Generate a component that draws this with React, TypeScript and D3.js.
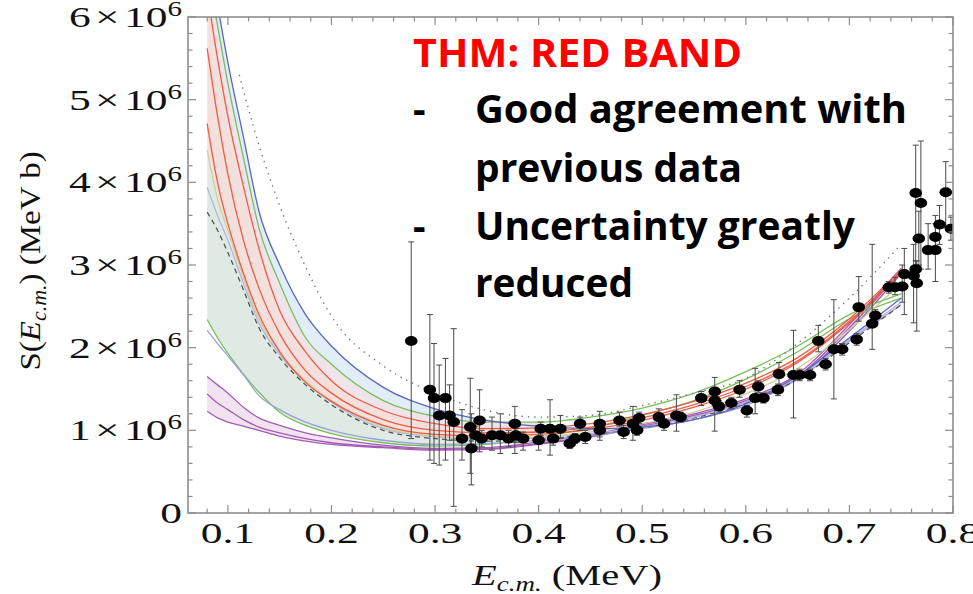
import React from 'react';
import * as d3 from 'd3';

// ---------- data ----------
const energies = [0.08, 0.09, 0.1, 0.115, 0.13, 0.15, 0.175, 0.2, 0.25, 0.3, 0.35, 0.4, 0.45, 0.5, 0.55, 0.6, 0.65, 0.7, 0.75];

const blueUpper = [6.9, 6.15, 5.45, 4.55, 3.65, 3.0, 2.4, 2.02, 1.52, 1.26, 1.12, 1.05, 1.02, 1.04, 1.13, 1.32, 1.66, 2.12, 2.6];
const greenUpper = [6.6, 5.9, 5.2, 4.3, 3.45, 2.78, 2.12, 1.8, 1.36, 1.17, 1.1, 1.1, 1.16, 1.27, 1.45, 1.71, 2.02, 2.4, 2.65];
const redUpper = [6.3, 5.5, 4.8, 3.95, 3.2, 2.45, 1.95, 1.6, 1.24, 1.08, 1.02, 1.03, 1.08, 1.19, 1.35, 1.57, 1.88, 2.35, 2.95];
const redMid = [5.62, 4.8, 4.1, 3.3, 2.72, 2.17, 1.72, 1.45, 1.13, 1.0, 0.97, 0.98, 1.04, 1.15, 1.31, 1.53, 1.84, 2.32, 2.92];
const redLower = [4.71, 4.0, 3.5, 2.9, 2.4, 1.95, 1.58, 1.35, 1.06, 0.95, 0.93, 0.95, 1.01, 1.12, 1.28, 1.5, 1.82, 2.3, 2.9];
const khakiLine = [4.39, 3.8, 3.42, 2.85, 2.35, 1.95, 1.6, 1.36, 1.04, 0.93, 0.9, 0.92, 0.98, 1.08, 1.22, 1.44, 1.75, 2.22, 2.78];
const lavenderLine = [3.94, 3.6, 3.3, 2.78, 2.3, 1.92, 1.58, 1.34, 1.02, 0.92, 0.89, 0.91, 0.96, 1.04, 1.16, 1.34, 1.64, 2.1, 2.55];
const dashedLine = [3.64, 3.42, 3.15, 2.7, 2.24, 1.88, 1.55, 1.31, 1.0, 0.9, 0.87, 0.89, 0.95, 1.03, 1.15, 1.33, 1.62, 2.06, 2.52];
const greenLower = [2.34, 2.12, 1.93, 1.68, 1.46, 1.22, 1.06, 0.96, 0.85, 0.81, 0.83, 0.92, 1.03, 1.18, 1.36, 1.62, 1.95, 2.35, 2.6];
const blueLower = [2.21, 2.05, 1.9, 1.67, 1.42, 1.25, 1.1, 1.0, 0.88, 0.83, 0.84, 0.88, 0.94, 1.02, 1.13, 1.3, 1.62, 2.08, 2.52];
const purpleUpper = [1.65, 1.55, 1.45, 1.28, 1.15, 1.06, 0.97, 0.91, 0.82, 0.78, 0.79, 0.86, 0.95, 1.07, 1.2, 1.38, 1.68, 2.28, 2.96];
const purpleMid = [1.44, 1.33, 1.25, 1.13, 1.04, 0.97, 0.9, 0.85, 0.8, 0.77, 0.78, 0.84, 0.93, 1.05, 1.18, 1.36, 1.65, 2.24, 2.93];
const purpleLower = [1.23, 1.15, 1.1, 1.05, 1.0, 0.93, 0.87, 0.83, 0.79, 0.76, 0.77, 0.83, 0.92, 1.04, 1.16, 1.34, 1.63, 2.2, 2.9];

const dottedEnergies = [0.111, 0.13, 0.15, 0.175, 0.2, 0.25, 0.3, 0.35, 0.4, 0.45, 0.5, 0.55, 0.6, 0.65, 0.7, 0.75];
const dottedValues = [5.3, 4.45, 3.72, 2.98, 2.38, 1.78, 1.45, 1.24, 1.16, 1.18, 1.3, 1.45, 1.63, 2.05, 2.6, 3.25];

const dataE = [0.277, 0.295, 0.299, 0.304, 0.31, 0.314, 0.318, 0.326, 0.334, 0.335, 0.339, 0.343, 0.345, 0.355, 0.363, 0.371, 0.377, 0.378, 0.385, 0.4, 0.402, 0.411, 0.414, 0.421, 0.43, 0.435, 0.44, 0.445, 0.459, 0.459, 0.478, 0.482, 0.491, 0.495, 0.497, 0.516, 0.521, 0.533, 0.537, 0.557, 0.57, 0.57, 0.574, 0.586, 0.594, 0.601, 0.609, 0.612, 0.617, 0.631, 0.632, 0.646, 0.652, 0.662, 0.67, 0.677, 0.685, 0.693, 0.707, 0.709, 0.722, 0.725, 0.738, 0.744, 0.751, 0.753, 0.762, 0.764, 0.765, 0.764, 0.769, 0.767, 0.776, 0.783, 0.783, 0.787, 0.793, 0.798];
const dataS = [2.08, 1.49, 1.39, 1.18, 1.39, 1.18, 1.1, 0.9, 1.04, 0.78, 0.94, 1.12, 0.9, 0.94, 0.94, 0.9, 1.08, 0.94, 0.9, 0.88, 1.02, 1.02, 0.9, 1.02, 0.84, 0.9, 1.08, 0.92, 1.08, 1.0, 1.12, 0.98, 1.08, 1.0, 1.15, 1.16, 1.08, 1.18, 1.16, 1.39, 1.47, 1.36, 1.29, 1.33, 1.49, 1.24, 1.39, 1.53, 1.39, 1.49, 1.68, 1.67, 1.67, 1.67, 2.08, 1.8, 1.98, 1.98, 2.1, 2.49, 2.29, 2.39, 2.73, 2.73, 2.74, 2.89, 2.87, 2.95, 2.78, 3.87, 3.75, 3.32, 3.18, 3.18, 3.34, 3.49, 3.88, 3.44];
const dataLo = [0.9, 0.64, 0.6, 0.58, 0.64, 0.88, 0.08, 0.64, 0.48, 0.34, 0.8, 0.74, 0.8, 0.76, 0.72, 0.8, 0.72, 0.85, 0.76, 0.76, 0.94, 0.7, 0.82, 0.9, 0.78, 0.84, 1.0, 0.84, 0.88, 0.92, 1.05, 0.9, 0.88, 0.94, 1.08, 1.06, 1.0, 0.99, 1.1, 1.3, 0.99, 1.3, 1.22, 1.26, 1.4, 1.16, 1.2, 1.46, 1.33, 1.42, 1.55, 1.15, 1.6, 1.6, 1.95, 1.73, 1.38, 1.91, 2.03, 2.32, 1.98, 2.32, 2.66, 2.64, 2.55, 2.4, 2.3, 2.85, 2.2, 3.0, 2.95, 3.0, 2.95, 2.8, 3.2, 3.25, 3.45, 3.3];
const dataHi = [3.28, 2.4, 2.05, 1.79, 1.87, 1.55, 2.23, 1.25, 1.63, 1.2, 1.05, 1.49, 1.0, 1.16, 1.2, 1.0, 1.29, 1.02, 0.98, 1.06, 1.1, 1.37, 0.98, 1.18, 0.92, 0.96, 1.16, 1.0, 1.23, 1.06, 1.22, 1.06, 1.29, 1.06, 1.22, 1.26, 1.14, 1.43, 1.22, 1.47, 1.64, 1.42, 1.36, 1.4, 1.6, 1.3, 1.75, 1.6, 1.45, 1.56, 1.82, 2.21, 1.74, 1.74, 2.27, 1.87, 2.58, 2.05, 2.17, 2.86, 3.25, 2.46, 2.8, 2.85, 3.0, 3.2, 3.25, 3.05, 3.05, 4.45, 4.5, 3.65, 3.5, 3.6, 3.5, 3.72, 4.25, 3.58];

const xTickValues = [0.1, 0.2, 0.3, 0.4, 0.5, 0.6, 0.7, 0.8];
const yTickValues = [0, 1, 2, 3, 4, 5, 6];

const bulletLines = ['Good agreement with', 'previous data', 'Uncertainty greatly', 'reduced'];

// ---------- chart ----------
const W = 973;
const H = 594;

export default function App() {
  const x = d3.scaleLinear().domain([0.0615, 0.8]).range([188, 953]);
  const y = d3.scaleLinear().domain([0, 6]).range([513, 17]);

  const line = d3
    .line<[number, number]>()
    .x((d) => x(d[0]))
    .y((d) => y(d[1]))
    .curve(d3.curveMonotoneX);

  const series = (vals: number[]) => energies.map((e, i) => [e, vals[i]] as [number, number]);

  const band = (upper: number[], lower: number[], maxE: number) => {
    const rows = energies
      .map((e, i) => ({ e, u: upper[i], l: lower[i] }))
      .filter((r) => r.e <= maxE);
    return d3
      .area<{ e: number; u: number; l: number }>()
      .x((d) => x(d.e))
      .y0((d) => y(d.l))
      .y1((d) => y(d.u))
      .curve(d3.curveMonotoneX)(rows) as string;
  };

  const lines: { vals: number[]; color: string; dash?: string; w?: number }[] = [
    { vals: purpleLower, color: '#a45bb5' },
    { vals: purpleMid, color: '#a45bb5' },
    { vals: purpleUpper, color: '#a45bb5' },
    { vals: greenLower, color: '#78bf5a' },
    { vals: blueLower, color: '#9aa3d8' },
    { vals: dashedLine, color: '#555555', dash: '5,4', w: 1.3 },
    { vals: lavenderLine, color: '#b9b4dc' },
    { vals: khakiLine, color: '#cfd09a' },
    { vals: redLower, color: '#ee5b45' },
    { vals: redMid, color: '#ee5b45' },
    { vals: redUpper, color: '#ee5b45' },
    { vals: greenUpper, color: '#78bf5a' },
    { vals: blueUpper, color: '#5868c0' },
  ];

  const dotted = dottedEnergies.map((e, i) => [e, dottedValues[i]] as [number, number]);

  const xMinor: number[] = [];
  for (let k = 4; k <= 40; k++) xMinor.push(k * 0.02);
  const yMinor: number[] = [];
  for (let k = 0; k <= 30; k++) yMinor.push(k * 0.2);

  const frameColor = '#8e8e8e';
  const serif = "'Liberation Serif', 'DejaVu Serif', serif";
  const sans = "'Open Sans', 'Noto Sans', sans-serif";

  const textWidths = [432, 267, 380, 158];
  const textBaselines = [123, 182, 240, 297];

  return (
    <svg
      width={W}
      height={H}
      viewBox={`0 0 ${W} ${H}`}
      style={{ position: 'absolute', left: 0, top: 0, background: '#ffffff' }}
    >
      <defs>
        <clipPath id="plotClip">
          <rect x={188} y={17} width={765} height={496} />
        </clipPath>
      </defs>
      <rect x={0} y={0} width={W} height={H} fill="#ffffff" />

      <g clipPath="url(#plotClip)">
        {/* bands */}
        <path d={band(blueUpper, greenUpper, 0.41)} fill="#e3edf9" />
        <path d={band(greenUpper, redUpper, 0.41)} fill="#eee4ea" />
        <path d={band(redUpper, khakiLine, 0.41)} fill="#f3dfdb" />
        <path d={band(khakiLine, greenLower, 0.41)} fill="#dfeae4" />
        <path d={band(purpleUpper, purpleLower, 0.76)} fill="#f2e3f1" />

        {lines.map((l, i) => (
          <path
            key={i}
            d={line(series(l.vals)) as string}
            fill="none"
            stroke={l.color}
            strokeWidth={l.w ?? 1.3}
            strokeDasharray={l.dash}
          />
        ))}
        <path d={line(dotted) as string} fill="none" stroke="#777" strokeWidth={1.4} strokeDasharray="1.4,5" />

        {/* data */}
        {dataE.map((e, i) => (
          <g key={'d' + i} stroke="#4a4a4a" strokeWidth={1}>
            <line x1={x(e)} x2={x(e)} y1={y(dataLo[i])} y2={y(dataHi[i])} />
            <line x1={x(e) - 3} x2={x(e) + 3} y1={y(dataLo[i])} y2={y(dataLo[i])} />
            <line x1={x(e) - 3} x2={x(e) + 3} y1={y(dataHi[i])} y2={y(dataHi[i])} />
          </g>
        ))}
        {dataE.map((e, i) => (
          <ellipse key={'p' + i} cx={x(e)} cy={y(dataS[i])} rx={6.3} ry={5} fill="#000" />
        ))}
      </g>

      {/* frame */}
      <rect x={188} y={17} width={765} height={496} fill="none" stroke={frameColor} strokeWidth={1.6} />
      {xMinor.map((v, i) => {
        const major = Math.abs(v * 10 - Math.round(v * 10)) < 1e-6;
        const len = major ? 8 : 4.5;
        return (
          <g key={'xt' + i} stroke={frameColor} strokeWidth={1.2}>
            <line x1={x(v)} x2={x(v)} y1={513} y2={513 - len} />
            <line x1={x(v)} x2={x(v)} y1={17} y2={17 + len} />
          </g>
        );
      })}
      {yMinor.map((v, i) => {
        const major = Math.abs(v - Math.round(v)) < 1e-6;
        const len = major ? 8 : 4.5;
        return (
          <g key={'yt' + i} stroke={frameColor} strokeWidth={1.2}>
            <line x1={188} x2={188 + len} y1={y(v)} y2={y(v)} />
            <line x1={953} x2={953 - len} y1={y(v)} y2={y(v)} />
          </g>
        );
      })}

      {/* x tick labels */}
      {xTickValues.map((v) => (
        <g key={'xl' + v} transform={`translate(${x(v)},543) scale(1.45,1)`}>
          <text textAnchor="middle" fontFamily={serif} fontSize={30} fill="#111">
            {d3.format('.1f')(v)}
          </text>
        </g>
      ))}

      {/* y tick labels */}
      {yTickValues.map((v) => (
        <g key={'yl' + v} transform={`translate(182,${y(v) + 10}) scale(1.45,1)`}>
          {v === 0 ? (
            <text textAnchor="end" fontFamily={serif} fontSize={30} fill="#111">0</text>
          ) : (
            <text textAnchor="end" fontFamily={serif} fontSize={30} fill="#111">
              {String(v)}
              <tspan dx={3}>×</tspan>
              <tspan dx={3}>10</tspan>
              <tspan dy={-11} fontSize={20}>6</tspan>
            </text>
          )}
        </g>
      ))}

      {/* axis titles */}
      <g transform="translate(567,585) scale(1.35,1)">
        <text textAnchor="middle" fontFamily={serif} fontSize={30} fill="#111">
          <tspan fontStyle="italic">E</tspan>
          <tspan fontStyle="italic" fontSize={20} dy={6}>c.m.</tspan>
          <tspan dy={-6}> (MeV)</tspan>
        </text>
      </g>
      <g transform="translate(40,261) rotate(-90) scale(1.1,1)">
        <text textAnchor="middle" fontFamily={serif} fontSize={30} fill="#111">
          S(<tspan fontStyle="italic">E</tspan>
          <tspan fontStyle="italic" fontSize={20} dy={6}>c.m.</tspan>
          <tspan dy={-6}>) (MeV b)</tspan>
        </text>
      </g>

      {/* annotation */}
      <text
        x={413}
        y={67}
        fontFamily={sans}
        fontWeight={700}
        fontSize={40}
        fill="#ff0000"
        textLength={329}
        lengthAdjust="spacingAndGlyphs"
      >
        THM: RED BAND
      </text>
      <text x={413} y={123} fontFamily={sans} fontWeight={700} fontSize={39} fill="#000">-</text>
      <text x={413} y={240} fontFamily={sans} fontWeight={700} fontSize={39} fill="#000">-</text>
      {bulletLines.map((t, i) => (
        <text
          key={'bl' + i}
          x={475}
          y={textBaselines[i]}
          fontFamily={sans}
          fontWeight={700}
          fontSize={39}
          fill="#000"
          textLength={textWidths[i]}
          lengthAdjust="spacingAndGlyphs"
        >
          {t}
        </text>
      ))}
    </svg>
  );
}
